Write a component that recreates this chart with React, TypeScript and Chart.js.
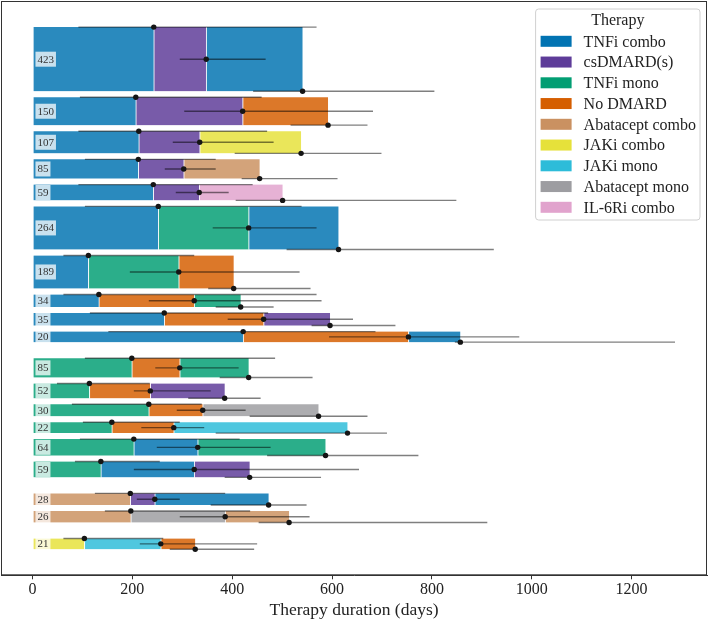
import React, { useEffect, useRef } from 'react';
import { Chart, registerables } from 'chart.js';

Chart.register(...registerables);

// ---------- data ----------
const THERAPIES = [
  'TNFi combo',
  'csDMARD(s)',
  'TNFi mono',
  'No DMARD',
  'Abatacept combo',
  'JAKi combo',
  'JAKi mono',
  'Abatacept mono',
  'IL-6Ri combo',
];
const THERAPY_COLORS = [
  '#0173b2',
  '#5e3c99',
  '#029e73',
  '#d55e00',
  '#ca9161',
  '#e6e13a',
  '#2dbcd9',
  '#9d9da1',
  '#e1a3cd',
];

// number of patients per treatment sequence (row)
const ROW_COUNTS = [423, 150, 107, 85, 59, 264, 189, 34, 35, 20, 85, 52, 30, 22, 64, 59, 28, 26, 21];
// first-line therapy group of each row
const ROW_GROUPS = [0, 0, 0, 0, 0, 0, 0, 0, 0, 0, 1, 1, 1, 1, 1, 1, 2, 2, 3];
const ROW_SEQUENCES = [
  ['TNFi combo', 'csDMARD(s)', 'TNFi combo'],
  ['TNFi combo', 'csDMARD(s)', 'No DMARD'],
  ['TNFi combo', 'csDMARD(s)', 'JAKi combo'],
  ['TNFi combo', 'csDMARD(s)', 'Abatacept combo'],
  ['TNFi combo', 'csDMARD(s)', 'IL-6Ri combo'],
  ['TNFi combo', 'TNFi mono', 'TNFi combo'],
  ['TNFi combo', 'TNFi mono', 'No DMARD'],
  ['TNFi combo', 'No DMARD', 'TNFi mono'],
  ['TNFi combo', 'No DMARD', 'csDMARD(s)'],
  ['TNFi combo', 'No DMARD', 'TNFi combo'],
  ['TNFi mono', 'No DMARD', 'TNFi mono'],
  ['TNFi mono', 'No DMARD', 'csDMARD(s)'],
  ['TNFi mono', 'No DMARD', 'Abatacept mono'],
  ['TNFi mono', 'No DMARD', 'JAKi mono'],
  ['TNFi mono', 'TNFi combo', 'TNFi mono'],
  ['TNFi mono', 'TNFi combo', 'csDMARD(s)'],
  ['Abatacept combo', 'csDMARD(s)', 'TNFi combo'],
  ['Abatacept combo', 'Abatacept mono', 'Abatacept combo'],
  ['JAKi combo', 'JAKi mono', 'No DMARD'],
];
// mean day at which each therapy of the sequence ends
const SWITCH_DAYS = [
  [243, 348, 541],
  [207, 421, 592],
  [213, 335, 538],
  [212, 303, 455],
  [242, 334, 501],
  [252, 433, 613],
  [112, 293, 403],
  [133, 324, 417],
  [264, 463, 596],
  [422, 753, 857],
  [199, 295, 433],
  [114, 236, 385],
  [233, 341, 573],
  [159, 283, 631],
  [203, 331, 587],
  [137, 324, 435],
  [196, 245, 473],
  [197, 386, 514],
  [104, 257, 326],
];
// spread (low / high) around each switch day
const SWITCH_LOW = [
  [92, 295, 442],
  [95, 304, 517],
  [92, 281, 405],
  [105, 265, 419],
  [92, 287, 407],
  [105, 361, 509],
  [62, 195, 352],
  [62, 233, 367],
  [115, 391, 559],
  [152, 594, 846],
  [105, 246, 375],
  [49, 203, 312],
  [79, 289, 435],
  [101, 218, 367],
  [95, 249, 470],
  [85, 203, 385],
  [125, 209, 357],
  [145, 295, 453],
  [62, 215, 275],
];
const SWITCH_HIGH = [
  [569, 467, 805],
  [459, 682, 671],
  [470, 483, 699],
  [367, 367, 611],
  [441, 393, 849],
  [539, 569, 924],
  [324, 535, 557],
  [569, 579, 483],
  [472, 642, 727],
  [687, 975, 1287],
  [486, 413, 561],
  [235, 357, 457],
  [339, 427, 671],
  [295, 344, 710],
  [415, 477, 773],
  [255, 654, 578],
  [386, 295, 549],
  [436, 555, 911],
  [262, 450, 444],
];
const X_TICKS = [0, 200, 400, 600, 800, 1000, 1200];
const X_MIN = -63;
const X_MAX = 1351;
const X_TITLE = 'Therapy duration (days)';
const LEGEND_TITLE = 'Therapy';

// ---------- layout helpers ----------
const W = 709;
const H = 619;
const PLOT_H = 574;
const ROW_BASE = 7.9;
const ROW_PER_PATIENT = 0.1326;
const ROW_GAP = 6;
const GROUP_GAP = 16;
const BAR_ALPHA = 0.84;
const SERIF = "'Liberation Serif', 'DejaVu Serif', serif";

function rgba(hex: string, a: number) {
  const r = parseInt(hex.slice(1, 3), 16);
  const g = parseInt(hex.slice(3, 5), 16);
  const b = parseInt(hex.slice(5, 7), 16);
  return `rgba(${r},${g},${b},${a})`;
}
const colorOf = (name: string) => THERAPY_COLORS[THERAPIES.indexOf(name)];

function buildLayout() {
  const tops: number[] = [];
  const bottoms: number[] = [];
  let cursor = 0;
  ROW_COUNTS.forEach((n, i) => {
    if (i > 0) cursor += ROW_GROUPS[i] !== ROW_GROUPS[i - 1] ? GROUP_GAP : ROW_GAP;
    const h = ROW_BASE + ROW_PER_PATIENT * n;
    tops.push(cursor);
    bottoms.push(cursor + h);
    cursor += h;
  });
  const total = cursor;
  return { tops, bottoms, yMin: -0.05 * total, yMax: 1.05 * total };
}

export default function App() {
  const ref = useRef<HTMLCanvasElement | null>(null);

  useEffect(() => {
    document.body.style.margin = '0';
    const canvas = ref.current;
    if (!canvas) return;
    const { tops, bottoms, yMin, yMax } = buildLayout();
    const pxPerUnit = PLOT_H / (yMax - yMin);
    const centers = tops.map((t, i) => (t + bottoms[i]) / 2);

    const barSets = ROW_SEQUENCES.map((seq, i) => ({
      type: 'bar' as const,
      label: `row${i}`,
      data: seq.map((_, k) => ({
        x: [k === 0 ? 0 : SWITCH_DAYS[i][k - 1], SWITCH_DAYS[i][k]],
        y: centers[i],
      })),
      backgroundColor: seq.map((t) => rgba(colorOf(t), BAR_ALPHA)),
      borderColor: 'rgba(255,255,255,0.75)',
      borderWidth: { left: 1, right: 0, top: 0, bottom: 0 },
      borderSkipped: false,
      barThickness: (bottoms[i] - tops[i]) * pxPerUnit,
      barPercentage: 1,
      categoryPercentage: 1,
      grouped: false,
      order: 3,
    }));

    const linePts: any[] = [];
    const dotPts: any[] = [];
    ROW_SEQUENCES.forEach((_, i) => {
      const ys = [tops[i], centers[i], bottoms[i]];
      for (let k = 0; k < 3; k++) {
        linePts.push({ x: SWITCH_LOW[i][k], y: ys[k] });
        linePts.push({ x: SWITCH_HIGH[i][k], y: ys[k] });
        linePts.push({ x: null, y: ys[k] });
        dotPts.push({ x: SWITCH_DAYS[i][k], y: ys[k] });
      }
    });

    const framePlugin = {
      id: 'frame',
      afterDraw(chart: any) {
        const { ctx, chartArea: a } = chart;
        ctx.save();
        ctx.strokeStyle = '#333';
        ctx.lineWidth = 1;
        ctx.strokeRect(a.left + 0.5, a.top + 0.5, a.right - a.left - 1, a.bottom - a.top - 1);
        ctx.restore();
      },
    };

    const countPlugin = {
      id: 'counts',
      afterDatasetsDraw(chart: any) {
        const { ctx } = chart;
        const xs = chart.scales.x;
        const ys = chart.scales.y;
        ctx.save();
        ctx.font = `11px ${SERIF}`;
        ctx.textBaseline = 'middle';
        ROW_COUNTS.forEach((n, i) => {
          const x0 = xs.getPixelForValue(0) + 3;
          const yc = ys.getPixelForValue(centers[i]);
          const txt = String(n);
          const w = ctx.measureText(txt).width;
          ctx.fillStyle = 'rgba(255,255,255,0.75)';
          ctx.fillRect(x0, yc - 7.5, w + 4, 15);
          ctx.fillStyle = '#333';
          ctx.fillText(txt, x0 + 2, yc + 0.5);
        });
        ctx.restore();
      },
    };

    const legendPlugin = {
      id: 'customLegend',
      afterDraw(chart: any) {
        const { ctx, chartArea: a } = chart;
        ctx.save();
        ctx.font = `16px ${SERIF}`;
        const maxW = Math.max(...THERAPIES.map((t) => ctx.measureText(t).width));
        const boxW = 48 + maxW + 4;
        const rowH = 20.75;
        const boxH = 32.3 + rowH * (THERAPIES.length - 1) + 12.7;
        const left = a.right - 7 - boxW;
        const top = a.top + 8;
        const r = 3;
        ctx.beginPath();
        ctx.moveTo(left + r, top);
        ctx.lineTo(left + boxW - r, top);
        ctx.quadraticCurveTo(left + boxW, top, left + boxW, top + r);
        ctx.lineTo(left + boxW, top + boxH - r);
        ctx.quadraticCurveTo(left + boxW, top + boxH, left + boxW - r, top + boxH);
        ctx.lineTo(left + r, top + boxH);
        ctx.quadraticCurveTo(left, top + boxH, left, top + boxH - r);
        ctx.lineTo(left, top + r);
        ctx.quadraticCurveTo(left, top, left + r, top);
        ctx.closePath();
        ctx.fillStyle = 'rgba(255,255,255,0.85)';
        ctx.fill();
        ctx.strokeStyle = '#d0d0d0';
        ctx.lineWidth = 1;
        ctx.stroke();
        ctx.fillStyle = '#222';
        ctx.textBaseline = 'middle';
        ctx.textAlign = 'center';
        ctx.fillText(LEGEND_TITLE, left + boxW / 2, top + 11.7);
        ctx.textAlign = 'left';
        THERAPIES.forEach((t, k) => {
          const yc = top + 32.3 + k * rowH;
          ctx.fillStyle = THERAPY_COLORS[k];
          ctx.fillRect(left + 5, yc - 5.5, 31, 11);
          ctx.fillStyle = '#222';
          ctx.fillText(t, left + 48, yc + 1);
        });
        ctx.restore();
      },
    };

    const chart = new Chart(canvas, {
      type: 'bar',
      data: {
        datasets: [
          ...barSets,
          {
            type: 'line',
            label: 'spread',
            data: linePts,
            borderColor: 'rgba(0,0,0,0.5)',
            borderWidth: 1.4,
            pointRadius: 0,
            spanGaps: false,
            fill: false,
            order: 2,
          },
          {
            type: 'scatter',
            label: 'switch',
            data: dotPts,
            pointRadius: 2.7,
            pointBackgroundColor: '#151515',
            pointBorderWidth: 0,
            showLine: false,
            order: 1,
          },
        ] as any,
      },
      options: {
        indexAxis: 'y',
        animation: false,
        responsive: false,
        devicePixelRatio: 1,
        events: [],
        layout: { autoPadding: false, padding: { left: 1, top: 1, right: 2, bottom: 0 } },
        plugins: { legend: { display: false }, tooltip: { enabled: false } },
        scales: {
          x: {
            type: 'linear',
            position: 'bottom',
            min: X_MIN,
            max: X_MAX,
            offset: false,
            afterBuildTicks: (axis: any) => {
              axis.ticks = X_TICKS.map((v) => ({ value: v }));
            },
            grid: { display: true, drawOnChartArea: false, drawTicks: true, tickLength: 4, color: '#333', offset: false },
            border: { display: true, color: '#333' },
            ticks: {
              color: '#222',
              padding: 1,
              maxRotation: 0,
              font: { family: SERIF, size: 16, lineHeight: 1.2 },
              callback: (v: any) => String(v),
            },
            title: {
              display: true,
              text: X_TITLE,
              color: '#222',
              padding: { top: 1, bottom: 0 },
              font: { family: SERIF, size: 17.5, lineHeight: 1 },
            },
          },
          y: {
            type: 'linear',
            display: false,
            offset: false,
            bounds: 'data',
            grace: 0,
            min: yMin,
            max: yMax,
            reverse: true,
          },
        },
      },
      plugins: [framePlugin, countPlugin, legendPlugin],
    } as any);

    return () => chart.destroy();
  }, []);

  return (
    <div style={{ position: 'absolute', left: 0, top: 0, width: W, height: H }}>
      <canvas ref={ref} width={W} height={H} style={{ display: 'block', width: W, height: H }} />
    </div>
  );
}
